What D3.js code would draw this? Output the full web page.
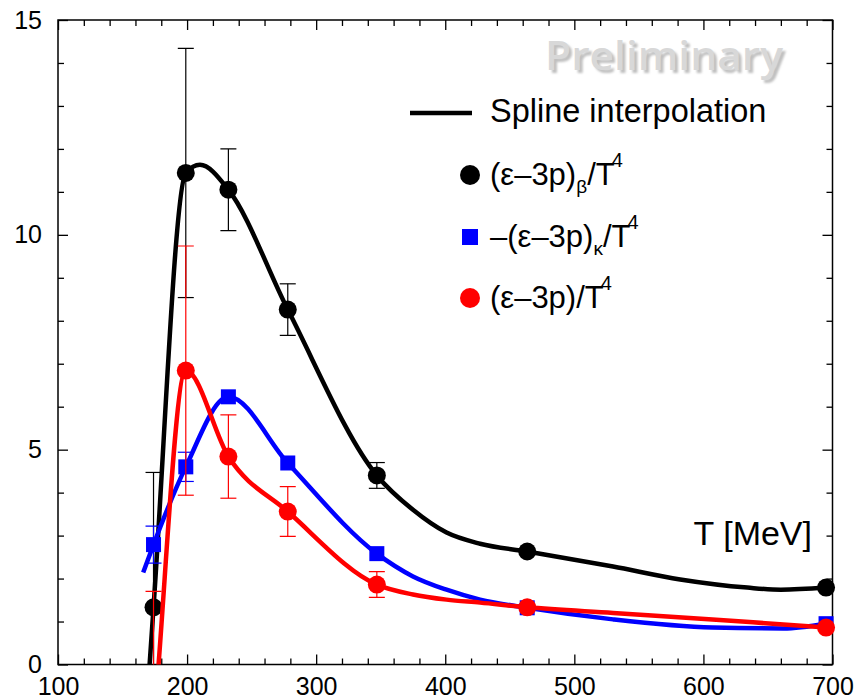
<!DOCTYPE html>
<html lang="en">

<head>
	<meta charset="utf-8">
	<title>Trace anomaly</title>
	<style>
		body {
			margin: 0;
			background: #fff;
			font-family: "Liberation Sans", Arial, sans-serif;
		}

		svg text {
			font-family: "Liberation Sans", Arial, sans-serif;
			fill: #000;
		}

		.frame {
			fill: none;
			stroke: #000;
			stroke-width: 1.5px;
		}

		.axis path.domain {
			display: none;
		}

		.axis line {
			stroke: #000;
			stroke-width: 1.3px;
		}

		.axis text {
			font-size: 25px;
		}
	</style>
</head>

<body>
	<svg></svg>

	<script src="https://cdn.jsdelivr.net/npm/d3@7"></script>
	<script>
		// measured points (T in MeV)
		var temps = [174, 199, 232, 278, 347, 463.5, 695];

		var betaVals = [1.33, 11.44, 11.05, 8.26, 4.40, 2.63, 1.79];
		var betaErrs = [3.14, 2.9, 0.95, 0.6, 0.3, 0, 0];

		var kappaVals = [2.79, 4.6, 6.23, 4.69, 2.58, 1.32, 0.95];
		var kappaErrs = [0.43, 0.34, 0, 0, 0, 0, 0];

		var totalVals = [-1.46, 6.84, 4.84, 3.56, 1.86, 1.33, 0.86];
		var totalErrs = [3.16, 2.9, 0.97, 0.58, 0.3, 0, 0];

		// spline curves
		var betaSplineT = [168, 174, 199, 210, 232, 278, 347, 375, 401, 427, 463.5, 530, 582, 634, 660, 695];
		var betaSplineV = [-1.3, 1.33, 11.44, 11.63, 11.05, 8.26, 4.40, 3.6, 3.07, 2.81, 2.63, 2.28, 1.98, 1.79, 1.74, 1.79];

		var kappaSplineT = [166, 174, 199, 232, 278, 347, 375, 401, 427, 463.5, 530, 607, 662, 695];
		var kappaSplineV = [2.14, 2.79, 4.6, 6.23, 4.69, 2.58, 2.05, 1.74, 1.51, 1.32, 1.05, 0.86, 0.84, 0.95];

		var totalSplineT = [172, 174, 199, 232, 278, 347, 375, 401, 427, 463.5, 530, 607, 662, 695];
		var totalSplineV = [-2.1, -1.46, 6.84, 4.84, 3.56, 1.86, 1.63, 1.51, 1.44, 1.33, 1.2, 1.05, 0.93, 0.86];

		var xMajor = [100, 200, 300, 400, 500, 600, 700];
		var yMajor = [0, 5, 10, 15];

		var legendLabels = [
			[["(ε–3p)", ""], ["β", "sub"], ["/T", ""], ["4", "sup"]],
			[["–(ε–3p)", ""], ["κ", "sub"], ["/T", ""], ["4", "sup"]],
			[["(ε–3p)/T", ""], ["4", "sup"]]
		];

		(function() {

			var width = 855,
				height = 699;

			var svg = d3.select("svg")
				.attr("width", width)
				.attr("height", height);

			var x = d3.scaleLinear().domain([100, 700]).range([58, 832.5]);
			var y = d3.scaleLinear().domain([0, 15]).range([664.5, 20]);

			var left = x.range()[0],
				right = x.range()[1],
				top = y.range()[1],
				bottom = y.range()[0];

			svg.append("defs").append("clipPath")
				.attr("id", "plotclip")
				.append("rect")
				.attr("x", left)
				.attr("y", top)
				.attr("width", right - left)
				.attr("height", bottom - top);

			svg.select("defs").append("clipPath")
				.attr("id", "markclip")
				.append("rect")
				.attr("x", left - 12)
				.attr("y", top)
				.attr("width", right - left + 24)
				.attr("height", bottom - top);

			svg.select("defs").append("filter")
				.attr("id", "soft")
				.append("feGaussianBlur")
				.attr("stdDeviation", 1.3);

			// watermark (soft shadow + light text)
			svg.append("text")
				.attr("x", 548)
				.attr("y", 73)
				.attr("textLength", 238)
				.attr("lengthAdjust", "spacingAndGlyphs")
				.attr("filter", "url(#soft)")
				.style("font-family", "'Open Sans', sans-serif")
				.style("font-weight", "600")
				.style("font-size", "40px")
				.style("fill", "#c0c0c0")
				.text("Preliminary");

			svg.append("text")
				.attr("x", 545)
				.attr("y", 70)
				.attr("textLength", 238)
				.attr("lengthAdjust", "spacingAndGlyphs")
				.style("font-family", "'Open Sans', sans-serif")
				.style("font-weight", "600")
				.style("font-size", "40px")
				.style("fill", "#d8d8d8")
				.text("Preliminary");

			// axes: major + minor ticks, all pointing inwards
			var xMinor = d3.range(100, 701, 20).filter(function(v) { return v % 100 !== 0; });
			var yMinor = d3.range(0, 15.01, 1).filter(function(v) { return v % 5 !== 0; });

			svg.append("g")
				.attr("class", "axis")
				.attr("transform", "translate(0," + bottom + ")")
				.call(d3.axisBottom(x).tickValues(xMajor).tickSize(-10).tickPadding(13).tickFormat(d3.format("d")));

			svg.append("g")
				.attr("class", "axis")
				.attr("transform", "translate(0," + bottom + ")")
				.call(d3.axisBottom(x).tickValues(xMinor).tickSize(-6).tickFormat(""));

			svg.append("g")
				.attr("class", "axis")
				.attr("transform", "translate(0," + top + ")")
				.call(d3.axisTop(x).tickValues(xMajor).tickSize(-10).tickFormat(""));

			svg.append("g")
				.attr("class", "axis")
				.attr("transform", "translate(0," + top + ")")
				.call(d3.axisTop(x).tickValues(xMinor).tickSize(-6).tickFormat(""));

			svg.append("g")
				.attr("class", "axis")
				.attr("transform", "translate(" + left + ",0)")
				.call(d3.axisLeft(y).tickValues(yMajor).tickSize(-10).tickPadding(16).tickFormat(d3.format("d")));

			svg.append("g")
				.attr("class", "axis")
				.attr("transform", "translate(" + left + ",0)")
				.call(d3.axisLeft(y).tickValues(yMinor).tickSize(-6).tickFormat(""));

			svg.append("g")
				.attr("class", "axis")
				.attr("transform", "translate(" + right + ",0)")
				.call(d3.axisRight(y).tickValues(yMajor).tickSize(-10).tickFormat(""));

			svg.append("g")
				.attr("class", "axis")
				.attr("transform", "translate(" + right + ",0)")
				.call(d3.axisRight(y).tickValues(yMinor).tickSize(-6).tickFormat(""));

			svg.append("rect")
				.attr("class", "frame")
				.attr("x", left)
				.attr("y", top)
				.attr("width", right - left)
				.attr("height", bottom - top);

			svg.append("text")
				.attr("x", 812)
				.attr("y", 545)
				.attr("text-anchor", "end")
				.style("font-size", "34px")
				.text("T [MeV]");

			var line = d3.line()
				.x(function(d) { return x(d[0]); })
				.y(function(d) { return y(d[1]); })
				.curve(d3.curveMonotoneX);

			var series = [
				{ name: "beta", color: "#000", vals: betaVals, errs: betaErrs, st: betaSplineT, sv: betaSplineV, shape: "circle" },
				{ name: "kappa", color: "#0000ff", vals: kappaVals, errs: kappaErrs, st: kappaSplineT, sv: kappaSplineV, shape: "square" },
				{ name: "total", color: "#ff0000", vals: totalVals, errs: totalErrs, st: totalSplineT, sv: totalSplineV, shape: "circle" }
			];

			series.forEach(function(s) {

				var g = svg.append("g").attr("class", "series-" + s.name);

				g.append("path")
					.attr("clip-path", "url(#plotclip)")
					.attr("d", line(d3.zip(s.st, s.sv)))
					.attr("fill", "none")
					.attr("stroke", s.color)
					.attr("stroke-width", 4.5)
					.attr("stroke-linejoin", "round");

				var pts = temps.map(function(t, i) {
					return { t: t, v: s.vals[i], e: s.errs[i] };
				});

				// error bars
				var eb = g.append("g")
					.attr("clip-path", "url(#plotclip)")
					.attr("stroke", s.color)
					.attr("stroke-width", 1.2)
					.selectAll("g")
					.data(pts.filter(function(d) { return d.e > 0; }))
					.enter().append("g");

				eb.append("line")
					.attr("x1", function(d) { return x(d.t); })
					.attr("x2", function(d) { return x(d.t); })
					.attr("y1", function(d) { return y(d.v + d.e); })
					.attr("y2", function(d) { return y(d.v - d.e); });

				[1, -1].forEach(function(sign) {
					eb.append("line")
						.attr("x1", function(d) { return x(d.t) - 8; })
						.attr("x2", function(d) { return x(d.t) + 8; })
						.attr("y1", function(d) { return y(d.v + sign * d.e); })
						.attr("y2", function(d) { return y(d.v + sign * d.e); });
				});

				// markers
				var mk = g.append("g")
					.attr("clip-path", "url(#markclip)")
					.attr("fill", s.color);

				if (s.shape === "circle") {
					mk.selectAll("circle")
						.data(pts)
						.enter().append("circle")
						.attr("cx", function(d) { return x(d.t); })
						.attr("cy", function(d) { return y(d.v); })
						.attr("r", 9);
				} else {
					mk.selectAll("rect")
						.data(pts)
						.enter().append("rect")
						.attr("x", function(d) { return x(d.t) - 7.5; })
						.attr("y", function(d) { return y(d.v) - 7.5; })
						.attr("width", 15)
						.attr("height", 15);
				}
			});

			// legend
			var legend = svg.append("g").attr("class", "legend");

			legend.append("line")
				.attr("x1", 410)
				.attr("x2", 472)
				.attr("y1", 113)
				.attr("y2", 113)
				.attr("stroke", "#000")
				.attr("stroke-width", 4.5);

			legend.append("text")
				.attr("x", 490)
				.attr("y", 122)
				.style("font-size", "32.5px")
				.text("Spline interpolation");

			var rowY = [175, 237, 298];

			series.forEach(function(s, i) {
				if (s.shape === "circle") {
					legend.append("circle")
						.attr("cx", 470)
						.attr("cy", rowY[i])
						.attr("r", 10)
						.attr("fill", s.color);
				} else {
					legend.append("rect")
						.attr("x", 462)
						.attr("y", rowY[i] - 8)
						.attr("width", 16)
						.attr("height", 16)
						.attr("fill", s.color);
				}

				var txt = legend.append("text")
					.attr("x", 490)
					.attr("y", rowY[i] + 10)
					.style("font-size", "31px");

				var shift = 0;
				legendLabels[i].forEach(function(part) {
					var ts = txt.append("tspan").text(part[0]);
					if (part[1] === "sub") {
						ts.attr("dy", 8 - shift).style("font-size", "19px");
						shift = 8;
					} else if (part[1] === "sup") {
						ts.attr("dy", -18 - shift).attr("dx", -3).style("font-size", "20px");
						shift = -18;
					} else {
						ts.attr("dy", -shift);
						shift = 0;
					}
				});
			});

		})();
	</script>
</body>

</html>
